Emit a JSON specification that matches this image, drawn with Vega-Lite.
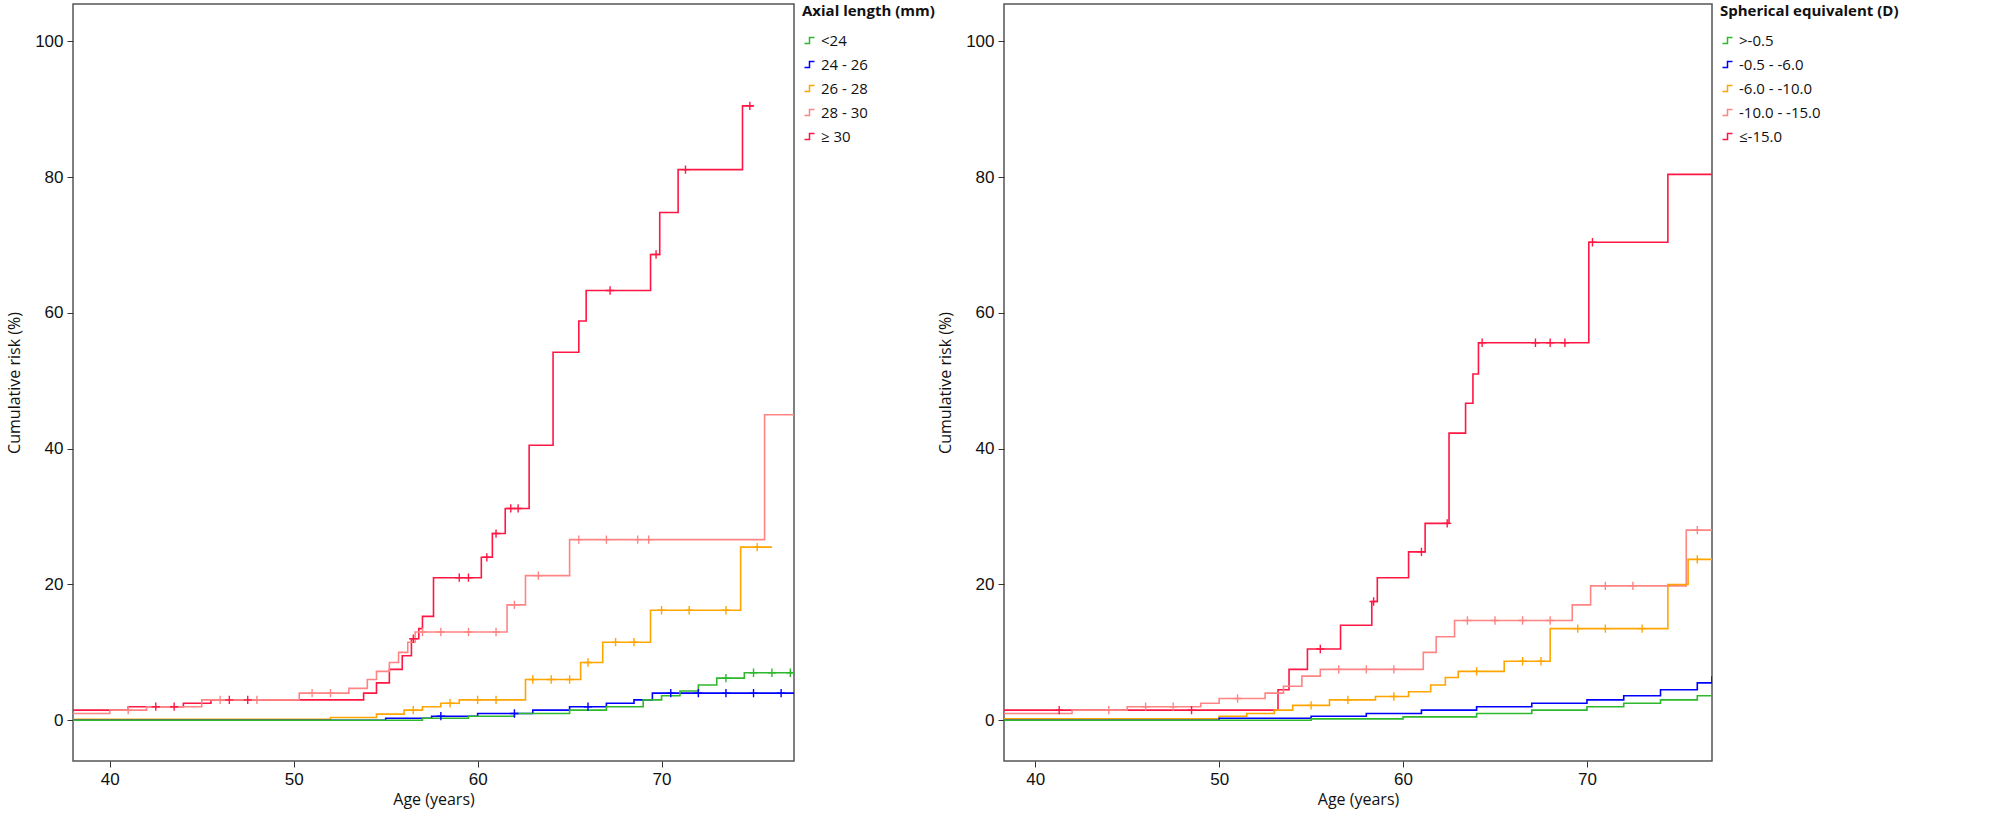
{
  "$schema": "https://vega.github.io/schema/vega-lite/v6.json",
  "background": "white",
  "padding": {"left": 5, "top": 3, "right": 5, "bottom": 5},
  "spacing": 0,
  "datasets": {
    "axial": [
      {"g": "≥ 30", "age": 38, "risk": 1.5}, {"g": "≥ 30", "age": 41, "risk": 2}, {"g": "≥ 30", "age": 44, "risk": 2.5}, {"g": "≥ 30", "age": 45.5, "risk": 3},
      {"g": "≥ 30", "age": 53.8, "risk": 4}, {"g": "≥ 30", "age": 54.5, "risk": 5.5}, {"g": "≥ 30", "age": 55.2, "risk": 7.5}, {"g": "≥ 30", "age": 55.9, "risk": 9.5},
      {"g": "≥ 30", "age": 56.4, "risk": 12}, {"g": "≥ 30", "age": 56.8, "risk": 13.5}, {"g": "≥ 30", "age": 57, "risk": 15.3}, {"g": "≥ 30", "age": 57.6, "risk": 21},
      {"g": "≥ 30", "age": 60.2, "risk": 24}, {"g": "≥ 30", "age": 60.8, "risk": 27.5}, {"g": "≥ 30", "age": 61.5, "risk": 31.2}, {"g": "≥ 30", "age": 62.8, "risk": 40.5},
      {"g": "≥ 30", "age": 64.1, "risk": 54.2}, {"g": "≥ 30", "age": 65.5, "risk": 58.8}, {"g": "≥ 30", "age": 65.9, "risk": 63.3}, {"g": "≥ 30", "age": 69.4, "risk": 68.6},
      {"g": "≥ 30", "age": 69.9, "risk": 74.8}, {"g": "≥ 30", "age": 70.9, "risk": 81.1}, {"g": "≥ 30", "age": 74.4, "risk": 90.5}, {"g": "≥ 30", "age": 75, "risk": 90.5},
      {"g": "28 - 30", "age": 38, "risk": 1}, {"g": "28 - 30", "age": 40, "risk": 1.5}, {"g": "28 - 30", "age": 42, "risk": 2}, {"g": "28 - 30", "age": 45, "risk": 3},
      {"g": "28 - 30", "age": 50.3, "risk": 4}, {"g": "28 - 30", "age": 53, "risk": 4.7}, {"g": "28 - 30", "age": 54, "risk": 6}, {"g": "28 - 30", "age": 54.5, "risk": 7.2},
      {"g": "28 - 30", "age": 55.2, "risk": 8.5}, {"g": "28 - 30", "age": 55.7, "risk": 10}, {"g": "28 - 30", "age": 56.2, "risk": 11.5}, {"g": "28 - 30", "age": 56.6, "risk": 13},
      {"g": "28 - 30", "age": 61.6, "risk": 17}, {"g": "28 - 30", "age": 62.6, "risk": 21.3}, {"g": "28 - 30", "age": 65, "risk": 26.6}, {"g": "28 - 30", "age": 75.6, "risk": 45}, {"g": "28 - 30", "age": 77.2, "risk": 45},
      {"g": "26 - 28", "age": 38, "risk": 0.15}, {"g": "26 - 28", "age": 52, "risk": 0.4}, {"g": "26 - 28", "age": 54.5, "risk": 0.9}, {"g": "26 - 28", "age": 56, "risk": 1.5},
      {"g": "26 - 28", "age": 57, "risk": 2}, {"g": "26 - 28", "age": 58, "risk": 2.5}, {"g": "26 - 28", "age": 59, "risk": 3}, {"g": "26 - 28", "age": 62.6, "risk": 6},
      {"g": "26 - 28", "age": 65.6, "risk": 8.5}, {"g": "26 - 28", "age": 66.8, "risk": 11.5}, {"g": "26 - 28", "age": 69.4, "risk": 16.2}, {"g": "26 - 28", "age": 74.3, "risk": 25.5}, {"g": "26 - 28", "age": 76, "risk": 25.5},
      {"g": "24 - 26", "age": 38, "risk": 0}, {"g": "24 - 26", "age": 55, "risk": 0.3}, {"g": "24 - 26", "age": 57.5, "risk": 0.6}, {"g": "24 - 26", "age": 60, "risk": 1},
      {"g": "24 - 26", "age": 63, "risk": 1.5}, {"g": "24 - 26", "age": 65, "risk": 2}, {"g": "24 - 26", "age": 67, "risk": 2.5}, {"g": "24 - 26", "age": 68.5, "risk": 3},
      {"g": "24 - 26", "age": 69.5, "risk": 4}, {"g": "24 - 26", "age": 77.2, "risk": 4},
      {"g": "<24", "age": 38, "risk": 0}, {"g": "<24", "age": 57, "risk": 0.3}, {"g": "<24", "age": 59.5, "risk": 0.6}, {"g": "<24", "age": 62, "risk": 1},
      {"g": "<24", "age": 65, "risk": 1.5}, {"g": "<24", "age": 67, "risk": 2}, {"g": "<24", "age": 69, "risk": 3}, {"g": "<24", "age": 70, "risk": 3.6},
      {"g": "<24", "age": 71, "risk": 4.3}, {"g": "<24", "age": 72, "risk": 5.2}, {"g": "<24", "age": 73, "risk": 6.2}, {"g": "<24", "age": 74.5, "risk": 7}, {"g": "<24", "age": 77.2, "risk": 7}
    ],
    "axialCens": [
      {"g": "≥ 30", "age": 42.5, "risk": 2}, {"g": "≥ 30", "age": 43.5, "risk": 2}, {"g": "≥ 30", "age": 46.5, "risk": 3}, {"g": "≥ 30", "age": 47.5, "risk": 3},
      {"g": "≥ 30", "age": 56.5, "risk": 12}, {"g": "≥ 30", "age": 59, "risk": 21}, {"g": "≥ 30", "age": 59.5, "risk": 21}, {"g": "≥ 30", "age": 60.5, "risk": 24},
      {"g": "≥ 30", "age": 61, "risk": 27.5}, {"g": "≥ 30", "age": 61.8, "risk": 31.2}, {"g": "≥ 30", "age": 62.2, "risk": 31.2}, {"g": "≥ 30", "age": 67.2, "risk": 63.3},
      {"g": "≥ 30", "age": 69.7, "risk": 68.6}, {"g": "≥ 30", "age": 71.3, "risk": 81.1}, {"g": "≥ 30", "age": 74.8, "risk": 90.5},
      {"g": "28 - 30", "age": 41, "risk": 1.5}, {"g": "28 - 30", "age": 46, "risk": 3}, {"g": "28 - 30", "age": 48, "risk": 3}, {"g": "28 - 30", "age": 51, "risk": 4},
      {"g": "28 - 30", "age": 52, "risk": 4}, {"g": "28 - 30", "age": 57, "risk": 13}, {"g": "28 - 30", "age": 58, "risk": 13}, {"g": "28 - 30", "age": 59.5, "risk": 13},
      {"g": "28 - 30", "age": 61, "risk": 13}, {"g": "28 - 30", "age": 62, "risk": 17}, {"g": "28 - 30", "age": 63.3, "risk": 21.3}, {"g": "28 - 30", "age": 65.5, "risk": 26.6},
      {"g": "28 - 30", "age": 67, "risk": 26.6}, {"g": "28 - 30", "age": 68.7, "risk": 26.6}, {"g": "28 - 30", "age": 69.3, "risk": 26.6},
      {"g": "26 - 28", "age": 56.5, "risk": 1.5}, {"g": "26 - 28", "age": 58.5, "risk": 2.5}, {"g": "26 - 28", "age": 60, "risk": 3}, {"g": "26 - 28", "age": 61, "risk": 3},
      {"g": "26 - 28", "age": 63, "risk": 6}, {"g": "26 - 28", "age": 64, "risk": 6}, {"g": "26 - 28", "age": 65, "risk": 6}, {"g": "26 - 28", "age": 66, "risk": 8.5},
      {"g": "26 - 28", "age": 67.5, "risk": 11.5}, {"g": "26 - 28", "age": 68.5, "risk": 11.5}, {"g": "26 - 28", "age": 70, "risk": 16.2}, {"g": "26 - 28", "age": 71.5, "risk": 16.2},
      {"g": "26 - 28", "age": 73.5, "risk": 16.2}, {"g": "26 - 28", "age": 75.2, "risk": 25.5},
      {"g": "24 - 26", "age": 58, "risk": 0.6}, {"g": "24 - 26", "age": 62, "risk": 1}, {"g": "24 - 26", "age": 66, "risk": 2}, {"g": "24 - 26", "age": 70.5, "risk": 4},
      {"g": "24 - 26", "age": 72, "risk": 4}, {"g": "24 - 26", "age": 73.5, "risk": 4}, {"g": "24 - 26", "age": 75, "risk": 4}, {"g": "24 - 26", "age": 76.5, "risk": 4},
      {"g": "<24", "age": 73.5, "risk": 6.2}, {"g": "<24", "age": 75, "risk": 7}, {"g": "<24", "age": 76, "risk": 7}, {"g": "<24", "age": 77, "risk": 7}
    ],
    "sph": [
      {"g": "≤-15.0", "age": 38, "risk": 1.5}, {"g": "≤-15.0", "age": 53.2, "risk": 4.5}, {"g": "≤-15.0", "age": 53.8, "risk": 7.5}, {"g": "≤-15.0", "age": 54.8, "risk": 10.5},
      {"g": "≤-15.0", "age": 56.6, "risk": 14}, {"g": "≤-15.0", "age": 58.3, "risk": 17.5}, {"g": "≤-15.0", "age": 58.6, "risk": 21}, {"g": "≤-15.0", "age": 60.3, "risk": 24.8},
      {"g": "≤-15.0", "age": 61.2, "risk": 29}, {"g": "≤-15.0", "age": 62.5, "risk": 42.3}, {"g": "≤-15.0", "age": 63.4, "risk": 46.7}, {"g": "≤-15.0", "age": 63.8, "risk": 51},
      {"g": "≤-15.0", "age": 64.1, "risk": 55.6}, {"g": "≤-15.0", "age": 70.1, "risk": 70.4}, {"g": "≤-15.0", "age": 74.4, "risk": 80.4}, {"g": "≤-15.0", "age": 76.8, "risk": 80.4},
      {"g": "-10.0 - -15.0", "age": 38, "risk": 1}, {"g": "-10.0 - -15.0", "age": 42, "risk": 1.5}, {"g": "-10.0 - -15.0", "age": 45, "risk": 2}, {"g": "-10.0 - -15.0", "age": 49, "risk": 2.5},
      {"g": "-10.0 - -15.0", "age": 50, "risk": 3.2}, {"g": "-10.0 - -15.0", "age": 52.5, "risk": 4}, {"g": "-10.0 - -15.0", "age": 53.5, "risk": 5}, {"g": "-10.0 - -15.0", "age": 54.5, "risk": 6.5},
      {"g": "-10.0 - -15.0", "age": 55.5, "risk": 7.5}, {"g": "-10.0 - -15.0", "age": 61.1, "risk": 10}, {"g": "-10.0 - -15.0", "age": 61.8, "risk": 12.3}, {"g": "-10.0 - -15.0", "age": 62.8, "risk": 14.7},
      {"g": "-10.0 - -15.0", "age": 69.2, "risk": 17}, {"g": "-10.0 - -15.0", "age": 70.2, "risk": 19.8}, {"g": "-10.0 - -15.0", "age": 75.4, "risk": 28}, {"g": "-10.0 - -15.0", "age": 76.8, "risk": 28},
      {"g": "-6.0 - -10.0", "age": 38, "risk": 0.2}, {"g": "-6.0 - -10.0", "age": 50, "risk": 0.6}, {"g": "-6.0 - -10.0", "age": 51.5, "risk": 1}, {"g": "-6.0 - -10.0", "age": 53, "risk": 1.5},
      {"g": "-6.0 - -10.0", "age": 54, "risk": 2.2}, {"g": "-6.0 - -10.0", "age": 56, "risk": 3}, {"g": "-6.0 - -10.0", "age": 58.5, "risk": 3.5}, {"g": "-6.0 - -10.0", "age": 60.3, "risk": 4.2},
      {"g": "-6.0 - -10.0", "age": 61.5, "risk": 5.2}, {"g": "-6.0 - -10.0", "age": 62.3, "risk": 6.3}, {"g": "-6.0 - -10.0", "age": 63, "risk": 7.2}, {"g": "-6.0 - -10.0", "age": 65.5, "risk": 8.7},
      {"g": "-6.0 - -10.0", "age": 68, "risk": 13.5}, {"g": "-6.0 - -10.0", "age": 74.4, "risk": 20}, {"g": "-6.0 - -10.0", "age": 75.5, "risk": 23.7}, {"g": "-6.0 - -10.0", "age": 76.8, "risk": 23.7},
      {"g": "-0.5 - -6.0", "age": 38, "risk": 0}, {"g": "-0.5 - -6.0", "age": 50, "risk": 0.3}, {"g": "-0.5 - -6.0", "age": 55, "risk": 0.6}, {"g": "-0.5 - -6.0", "age": 58, "risk": 1},
      {"g": "-0.5 - -6.0", "age": 61, "risk": 1.5}, {"g": "-0.5 - -6.0", "age": 64, "risk": 2}, {"g": "-0.5 - -6.0", "age": 67, "risk": 2.5}, {"g": "-0.5 - -6.0", "age": 70, "risk": 3},
      {"g": "-0.5 - -6.0", "age": 72, "risk": 3.6}, {"g": "-0.5 - -6.0", "age": 74, "risk": 4.5}, {"g": "-0.5 - -6.0", "age": 76, "risk": 5.5}, {"g": "-0.5 - -6.0", "age": 76.8, "risk": 6.5},
      {"g": ">-0.5", "age": 38, "risk": 0}, {"g": ">-0.5", "age": 55, "risk": 0.2}, {"g": ">-0.5", "age": 60, "risk": 0.5}, {"g": ">-0.5", "age": 64, "risk": 1},
      {"g": ">-0.5", "age": 67, "risk": 1.5}, {"g": ">-0.5", "age": 70, "risk": 2}, {"g": ">-0.5", "age": 72, "risk": 2.5}, {"g": ">-0.5", "age": 74, "risk": 3},
      {"g": ">-0.5", "age": 76, "risk": 3.6}, {"g": ">-0.5", "age": 76.8, "risk": 4}
    ],
    "sphCens": [
      {"g": "≤-15.0", "age": 41.3, "risk": 1.5}, {"g": "≤-15.0", "age": 48.5, "risk": 1.5}, {"g": "≤-15.0", "age": 55.5, "risk": 10.5}, {"g": "≤-15.0", "age": 58.4, "risk": 17.5},
      {"g": "≤-15.0", "age": 61, "risk": 24.8}, {"g": "≤-15.0", "age": 62.4, "risk": 29}, {"g": "≤-15.0", "age": 64.3, "risk": 55.6}, {"g": "≤-15.0", "age": 67.2, "risk": 55.6},
      {"g": "≤-15.0", "age": 68, "risk": 55.6}, {"g": "≤-15.0", "age": 68.8, "risk": 55.6}, {"g": "≤-15.0", "age": 70.3, "risk": 70.4},
      {"g": "-10.0 - -15.0", "age": 44, "risk": 1.5}, {"g": "-10.0 - -15.0", "age": 46, "risk": 2}, {"g": "-10.0 - -15.0", "age": 47.5, "risk": 2}, {"g": "-10.0 - -15.0", "age": 51, "risk": 3.2},
      {"g": "-10.0 - -15.0", "age": 56.5, "risk": 7.5}, {"g": "-10.0 - -15.0", "age": 58, "risk": 7.5}, {"g": "-10.0 - -15.0", "age": 59.5, "risk": 7.5}, {"g": "-10.0 - -15.0", "age": 63.5, "risk": 14.7},
      {"g": "-10.0 - -15.0", "age": 65, "risk": 14.7}, {"g": "-10.0 - -15.0", "age": 66.5, "risk": 14.7}, {"g": "-10.0 - -15.0", "age": 68, "risk": 14.7}, {"g": "-10.0 - -15.0", "age": 71, "risk": 19.8},
      {"g": "-10.0 - -15.0", "age": 72.5, "risk": 19.8}, {"g": "-10.0 - -15.0", "age": 76, "risk": 28},
      {"g": "-6.0 - -10.0", "age": 55, "risk": 2.2}, {"g": "-6.0 - -10.0", "age": 57, "risk": 3}, {"g": "-6.0 - -10.0", "age": 59.5, "risk": 3.5}, {"g": "-6.0 - -10.0", "age": 64, "risk": 7.2},
      {"g": "-6.0 - -10.0", "age": 66.5, "risk": 8.7}, {"g": "-6.0 - -10.0", "age": 67.5, "risk": 8.7}, {"g": "-6.0 - -10.0", "age": 69.5, "risk": 13.5}, {"g": "-6.0 - -10.0", "age": 71, "risk": 13.5},
      {"g": "-6.0 - -10.0", "age": 73, "risk": 13.5}, {"g": "-6.0 - -10.0", "age": 76, "risk": 23.7}
    ]
  },
  "hconcat": [
    {
      "width": 721,
      "height": 757,
      "layer": [
        {
          "data": {"name": "axial"},
          "mark": {"type": "line", "interpolate": "step-after", "strokeWidth": 1.6, "clip": true},
          "encoding": {
            "x": {"field": "age", "type": "quantitative", "title": "Age (years)", "scale": {"domain": [38, 77.2], "nice": false, "zero": false}, "axis": {"values": [40, 50, 60, 70]}},
            "y": {"field": "risk", "type": "quantitative", "title": "Cumulative risk (%)", "scale": {"domain": [-6, 105.5], "nice": false}, "axis": {"values": [0, 20, 40, 60, 80, 100]}},
            "color": {"field": "g", "type": "nominal", "title": "Axial length (mm)",
              "scale": {"domain": ["<24", "24 - 26", "26 - 28", "28 - 30", "≥ 30"], "range": ["#2db82d", "#0000ff", "#ffa500", "#ff8585", "#ff1744"]}}
          }
        },
        {
          "data": {"name": "axialCens"},
          "mark": {"type": "point", "shape": "M-1,0H1M0,-1V1", "size": 70, "filled": false, "strokeWidth": 1.4, "opacity": 1},
          "encoding": {
            "x": {"field": "age", "type": "quantitative"},
            "y": {"field": "risk", "type": "quantitative"},
            "color": {"field": "g", "type": "nominal"}
          }
        }
      ]
    },
    {
      "width": 708,
      "height": 757,
      "layer": [
        {
          "data": {"name": "sph"},
          "mark": {"type": "line", "interpolate": "step-after", "strokeWidth": 1.6, "clip": true},
          "encoding": {
            "x": {"field": "age", "type": "quantitative", "title": "Age (years)", "scale": {"domain": [38.3, 76.8], "nice": false, "zero": false}, "axis": {"values": [40, 50, 60, 70]}},
            "y": {"field": "risk", "type": "quantitative", "title": "Cumulative risk (%)", "scale": {"domain": [-6, 105.5], "nice": false}, "axis": {"values": [0, 20, 40, 60, 80, 100]}},
            "color": {"field": "g", "type": "nominal", "title": "Spherical equivalent (D)",
              "scale": {"domain": [">-0.5", "-0.5 - -6.0", "-6.0 - -10.0", "-10.0 - -15.0", "≤-15.0"], "range": ["#2db82d", "#0000ff", "#ffa500", "#ff8585", "#ff1744"]}}
          }
        },
        {
          "data": {"name": "sphCens"},
          "mark": {"type": "point", "shape": "M-1,0H1M0,-1V1", "size": 70, "filled": false, "strokeWidth": 1.4, "opacity": 1},
          "encoding": {
            "x": {"field": "age", "type": "quantitative"},
            "y": {"field": "risk", "type": "quantitative"},
            "color": {"field": "g", "type": "nominal"}
          }
        }
      ]
    }
  ],
  "resolve": {"scale": {"color": "independent", "x": "independent", "y": "independent"}, "legend": {"color": "independent"}},
  "config": {
    "font": "Open Sans",
    "view": {"stroke": "#555555", "strokeWidth": 1.5},
    "axis": {"grid": false, "domain": false, "tickColor": "#333", "tickSize": 6, "labelFontSize": 17, "labelColor": "#111", "labelFont": "Liberation Sans",
      "titleFontSize": 16, "titleFontWeight": "normal", "titleColor": "#111", "labelPadding": 4},
    "axisY": {"titlePadding": 12},
    "legend": {"orient": "right", "offset": 8, "titleFontSize": 15, "titleFontWeight": "bold", "titleColor": "#111", "titlePadding": 14,
      "labelFontSize": 15, "labelColor": "#111", "rowPadding": 8, "symbolType": "M-1,0.6H0V-0.6H1", "symbolStrokeWidth": 1.5, "symbolSize": 100, "symbolFillColor": "transparent"}
  }
}
